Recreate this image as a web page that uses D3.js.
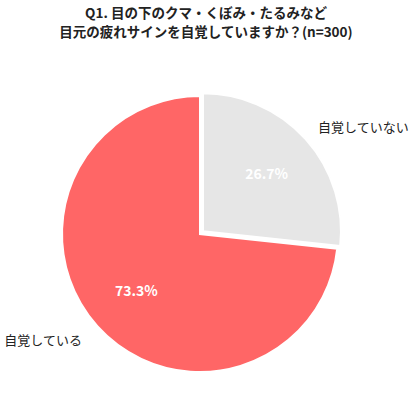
<!DOCTYPE html>
<html>
<head>
<meta charset="utf-8" />
<title>Q1</title>
<style>
    body { margin: 0; background: #fff; }
    text { font-family: "Noto Sans CJK JP", "Noto Sans", sans-serif; }
</style>
</head>
<body>
<div id="container"></div>
<script src="https://cdn.jsdelivr.net/npm/d3@7"></script>
<script>
    const categories = ['自覚していない', '自覚している']
    const values = [26.7, 73.3]
    const colors = ['#e6e6e6', '#ff6666']
    const titleLines = ['Q1. 目の下のクマ・くぼみ・たるみなど', '目元の疲れサインを自覚していますか？(n=300)']

    const width = 420
    const height = 407
    const cx = 200, cy = 234
    const radius = 138

    let svg = d3.select('#container').append('svg').attr('width', width).attr('height', height)

    svg.selectAll('text.title').data(titleLines).enter().append('text')
        .attr('class', 'title')
        .attr('x', 206)
        .attr('y', (d, i) => 18 + i * 19)
        .attr('text-anchor', 'middle')
        .style('font-size', '13.5px')
        .style('font-weight', 'bold')
        .style('fill', '#222')
        .text(d => d)

    let chart = svg.append('g').attr('transform', `translate(${cx}, ${cy})`)

    let pie = d3.pie().sort(null).value(d => d)
    let arcs = pie(values)
    let arc = d3.arc().innerRadius(0).outerRadius(radius)
    let inner = d3.arc().innerRadius(radius * 0.62).outerRadius(radius * 0.62)
    let outer = d3.arc().innerRadius(radius * 1.15).outerRadius(radius * 1.15)

    // first slice is pulled out a little
    const offset = i => i === 0 ? 4 : 0
    const shift = (d, i) => {
        let a = (d.startAngle + d.endAngle) / 2
        return [Math.sin(a) * offset(i), -Math.cos(a) * offset(i)]
    }

    let slices = chart.selectAll('g.slice').data(arcs).enter().append('g')
        .attr('class', 'slice')
        .attr('transform', (d, i) => `translate(${shift(d, i)})`)

    slices.append('path')
        .attr('d', arc)
        .style('fill', (d, i) => colors[i])
        .style('stroke', '#fff')
        .style('stroke-width', 2)

    slices.append('text')
        .attr('transform', d => `translate(${inner.centroid(d)})`)
        .attr('text-anchor', 'middle')
        .attr('dy', '0.35em')
        .style('font-size', '14px')
        .style('font-weight', 'bold')
        .style('fill', '#fff')
        .text(d => d.data.toFixed(1) + '%')

    chart.selectAll('text.label').data(arcs).enter().append('text')
        .attr('class', 'label')
        .attr('transform', d => `translate(${outer.centroid(d)})`)
        .attr('text-anchor', d => (d.startAngle + d.endAngle) / 2 < Math.PI ? 'start' : 'end')
        .attr('dy', '0.35em')
        .style('font-size', '13px')
        .style('fill', '#222')
        .text((d, i) => categories[i])
</script>
</body>
</html>
